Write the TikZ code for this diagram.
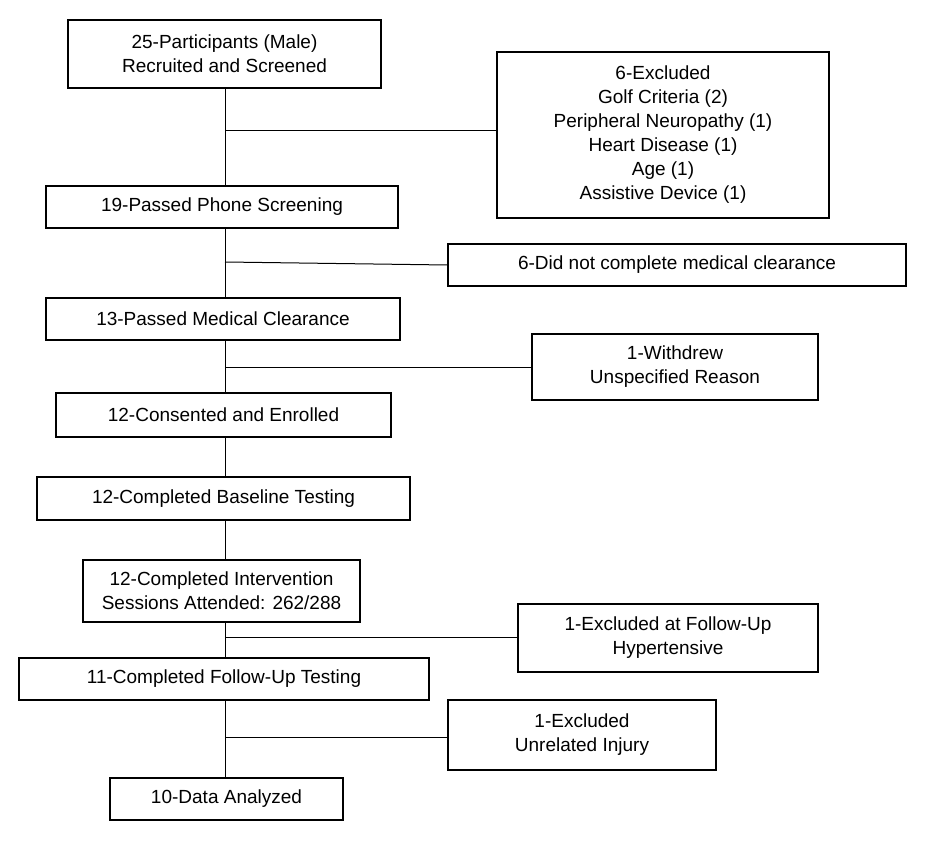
\documentclass[tikz,border=0pt]{standalone}
\usepackage{fontspec}
\setmainfont{Liberation Sans}
\begin{document}
\begin{tikzpicture}[x=1pt,y=-1pt,
  bx/.style={draw,line width=1.2pt,align=center,inner sep=0pt,font=\fontsize{19}{24}\selectfont},
  ln/.style={line width=1pt}]
\useasboundingbox (0,0) rectangle (926,842);
\newcommand\bxat[6]{\node[bx,minimum width=#4-#2,minimum height=#5-#3] (#1) at ({(#2+#4)/2},{(#3+#5)/2}) {#6};}
\bxat{a}{68}{20}{381}{88}{25-Participants (Male)\\Recruited and Screened}
\bxat{b}{497}{52}{829}{218}{6-Excluded\\Golf Criteria (2)\\Peripheral Neuropathy (1)\\Heart Disease (1)\\Age (1)\\Assistive Device (1)}
\bxat{c}{46}{186}{398}{228}{19-Passed Phone Screening}
\bxat{d}{448}{244}{906}{286}{6-Did not complete medical clearance}
\bxat{e}{46}{298}{400}{340}{13-Passed Medical Clearance}
\bxat{f}{532}{334}{818}{400}{1-Withdrew\\Unspecified Reason}
\bxat{g}{56}{393}{391}{437}{12-Consented and Enrolled}
\bxat{h}{37}{477}{410}{520}{12-Completed Baseline Testing}
\bxat{i}{83}{560}{360}{622}{12-Completed Intervention\\Sessions Attended: 262/288}
\bxat{j}{518}{604}{818}{672}{1-Excluded at Follow-Up\\Hypertensive}
\bxat{k}{19}{658}{429}{700}{11-Completed Follow-Up Testing}
\bxat{l}{448}{700}{716}{770}{1-Excluded\\Unrelated Injury}
\bxat{m}{110}{778}{343}{820}{10-Data Analyzed}
\coordinate (p1) at (225,131);
\coordinate (p2) at (225,262);
\coordinate (p3) at (225,367);
\coordinate (p4) at (225,637);
\coordinate (p5) at (225,737);
\draw[ln] (a.south -| p1) -- (c.north -| p1);
\draw[ln] (c.south -| p1) -- (e.north -| p1);
\draw[ln] (e.south -| p1) -- (g.north -| p1);
\draw[ln] (g.south -| p1) -- (h.north -| p1);
\draw[ln] (h.south -| p1) -- (i.north -| p1);
\draw[ln] (i.south -| p1) -- (k.north -| p1);
\draw[ln] (k.south -| p1) -- (m.north -| p1);
\draw[ln] (p1) -- (p1 -| b.west);
\draw[ln] (p2) -- (d.west);
\draw[ln] (p3) -- (p3 -| f.west);
\draw[ln] (p4) -- (p4 -| j.west);
\draw[ln] (p5) -- (p5 -| l.west);
\end{tikzpicture}
\end{document}
